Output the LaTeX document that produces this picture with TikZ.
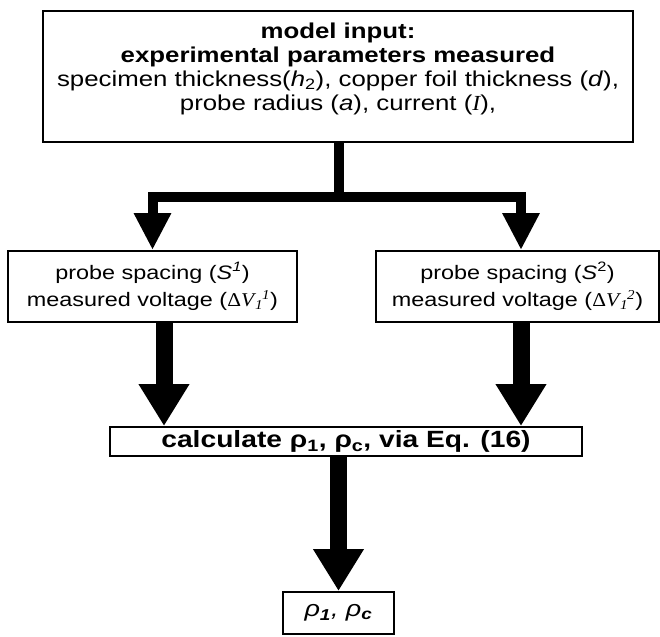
\documentclass[tikz,border=0pt]{standalone}
\usepackage{fontspec}
\setmainfont[FakeStretch=1.2]{Liberation Sans}
\newfontfamily\tms[FakeStretch=1.1]{Liberation Serif}
\usetikzlibrary{arrows.meta}

\newcommand{\dV}[1]{{\tms Δ\textit{V}\kern-1pt\textsubscript{\textit{1}}\kern-1pt\textsuperscript{\textit{#1}}}}

\begin{document}
\begin{tikzpicture}[x=1pt,y=-1pt,line join=miter,
                    font=\fontsize{19.5}{23.5}\selectfont]
  \tikzstyle{box}=[draw=black,line width=2pt,inner sep=0pt,align=center]
  \tikzstyle{thin flow}=[line width=10pt,-{Triangle[width=35pt,length=37pt]}]
  \tikzstyle{flow}=[line width=17pt,-{Triangle[width=48pt,length=42pt]}]

  \useasboundingbox (0,0) rectangle (660,636);

  \node[box,line width=2.4pt,minimum width=590pt,minimum height=131pt] (input) at (338,76.5) {};
  \node[align=center,inner sep=0pt,font=\fontsize{21.5}{24}\selectfont] (inputtext) at (338,69)
    {\textbf{model input:}\\
     \textbf{experimental parameters measured}\\
     specimen thickness(\textit{h}\textsubscript{2}), copper foil thickness (\textit{d}),\\
     probe radius (\textit{a}), current ({\tms\itshape I}),};
  \node[box,minimum width=289pt,minimum height=71pt] (probeA) at (152.5,286.5)
    {probe spacing (\textit{S}\textsuperscript{\textit{1}})\\[4pt]
     measured voltage (\dV{1})};
  \node[box,minimum width=283pt,minimum height=71pt] (probeB) at (517.5,286.5)
    {probe spacing (\textit{S}\textsuperscript{2})\\[4pt]
     measured voltage (\dV{2})};
  \node[box,minimum width=472pt,minimum height=29pt,
        font=\fontsize{23.5}{26}\selectfont] (calc) at (346,441.5)
    {\textbf{calculate ρ\textsubscript{1}, ρ\textsubscript{c}, via Eq. (16)}};
  \node[box,minimum width=111pt,minimum height=42pt,
        font=\fontsize{22.5}{25}\selectfont] (result) at (338.5,613)
    {\itshape ρ\textsubscript{\bfseries 1}, ρ\textsubscript{\bfseries c}};

  \coordinate (split) at (339,197);
  \coordinate (outA) at (164,322);
  \coordinate (outB) at (521,322);

  \draw[thin flow] (input.south -| split) -- (split) -| (probeA.north);
  \draw[thin flow] (split) -| (outB |- probeB.north);
  \draw[flow] (outA) -- (outA |- calc.north);
  \draw[flow] (outB) -- (outB |- calc.north);
  \draw[flow] (result.north |- calc.south) -- (result.north);
\end{tikzpicture}
\end{document}
